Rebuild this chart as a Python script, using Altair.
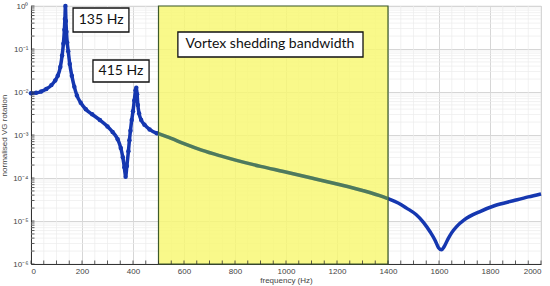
import altair as alt
import pandas as pd

# ---- data ----
freq = [0, 20, 40, 60, 80, 95, 105, 115, 122, 127, 131, 133, 135, 137, 139, 142, 146, 152, 160, 170,
        180, 195, 215, 240, 270, 300, 320, 340, 352, 360, 366, 371, 376, 382, 386, 390, 395, 400, 405,
        410, 413, 416, 419, 424, 432, 445, 465, 493, 500, 550, 600, 669, 740, 806, 900, 990, 1100,
        1200, 1300, 1382, 1400, 1440, 1473, 1510, 1539, 1565, 1584, 1598, 1610, 1620, 1635, 1650,
        1669, 1700, 1761, 1820, 1891, 1950, 2000]
log_resp = [-2.03, -2.02, -1.99, -1.93, -1.84, -1.73, -1.62, -1.42, -1.15, -0.88, -0.55, -0.30, 0.0,
            -0.35, -0.60, -0.85, -1.05, -1.35, -1.62, -1.88, -2.08, -2.25, -2.40, -2.52, -2.65, -2.80,
            -2.93, -3.10, -3.30, -3.52, -3.75, -3.97, -3.72, -3.38, -3.12, -2.90, -2.65, -2.45, -2.20,
            -1.96, -1.90, -2.05, -2.30, -2.50, -2.65, -2.76, -2.87, -2.96, -2.97, -3.08, -3.20, -3.35,
            -3.48, -3.59, -3.73, -3.85, -4.00, -4.14, -4.29, -4.44, -4.48, -4.58, -4.70, -4.85, -5.03,
            -5.25, -5.44, -5.62, -5.67, -5.60, -5.42, -5.27, -5.13, -4.97, -4.78, -4.64, -4.53, -4.44,
            -4.37]
band = [500, 1400]
x_major = [0, 200, 400, 600, 800, 1000, 1200, 1400, 1600, 1800, 2000]
y_major = [1e-6, 1e-5, 1e-4, 1e-3, 1e-2, 1e-1, 1]
labels = ["135 Hz", "415 Hz", "Vortex shedding bandwidth"]

W, H = 510, 258
BLUE = "#1537b0"
GREEN = "#4e7a5e"

df = pd.DataFrame({"f": freq, "v": [10 ** e for e in log_resp]})
df_in = df[(df.f >= band[0]) & (df.f <= band[1])]

x_minor = [f for f in range(0, 2001, 50) if f % 200 != 0]
y_minor = [m * d for d in y_major[:-1] for m in range(2, 10)]

# annotation boxes (frequency / value coordinates)
ann = pd.DataFrame({
    "label": labels,
    "f": [165, 243, 576], "f2": [384, 463, 1302],
    "v": [10 ** -0.0465, 10 ** -1.256, 10 ** -0.605],
    "v2": [10 ** -0.605, 10 ** -1.767, 10 ** -1.186],
    "tf": [275, 353, 937],
    "tv": [10 ** -0.326, 10 ** -1.512, 10 ** -0.895],
})

xscale = alt.Scale(domain=[0, 2000], nice=False, zero=False)
yscale = alt.Scale(type="log", domain=[1e-6, 1], nice=False)
sup = "['\u2070','\u207b\u00b9','\u207b\u00b2','\u207b\u00b3','\u207b\u2074','\u207b\u2075','\u207b\u2076']"
xaxis = alt.Axis(values=x_major, title="frequency (Hz)", grid=True, gridColor="#d6d6d6",
                 ticks=False, labelFontSize=8, labelColor="#444", titleFontSize=8, format="d",
                 titleFontWeight="normal", titleColor="#444", labelPadding=3, titlePadding=1,
                 domainColor="#333", labelFont="Liberation Sans", titleFont="Liberation Sans")
yaxis = alt.Axis(values=y_major, title="normalised VG rotation", grid=True, gridColor="#d6d6d6",
                 ticks=False, labelFontSize=8, labelColor="#444", titleFontSize=8,
                 titleFontWeight="normal", titleColor="#444", labelPadding=3, titlePadding=4,
                 domainColor="#333", labelFont="Liberation Sans", titleFont="Liberation Sans",
                 labelExpr="'10' + " + sup + "[round(-log(datum.value)/LN10)]")


def X(field="f"):
    return alt.X(f"{field}:Q", scale=xscale, axis=xaxis)


def Y(field="v"):
    return alt.Y(f"{field}:Q", scale=yscale, axis=yaxis)


minor_x = alt.Chart(pd.DataFrame({"f": x_minor})).mark_rule(
    color="#ececec", strokeWidth=0.7).encode(x=X(), y=alt.value(0), y2=alt.value(H))
minor_y = alt.Chart(pd.DataFrame({"v": y_minor})).mark_rule(
    color="#ececec", strokeWidth=0.7).encode(y=Y(), x=alt.value(0), x2=alt.value(W))

line = alt.Chart(df).mark_line(color=BLUE, strokeWidth=3.5, interpolate="monotone").encode(x=X(), y=Y())
pts = alt.Chart(df[df.f < 500]).mark_point(filled=True, color=BLUE, size=20, opacity=1).encode(x=X(), y=Y())

rect = alt.Chart(pd.DataFrame({"f": [band[0]], "f2": [band[1]]})).mark_rect(
    fill="#f8f870", fillOpacity=0.82, stroke="#3d5a2a", strokeWidth=1.2).encode(
    x=X(), x2="f2:Q", y=alt.value(0), y2=alt.value(H))

line_in = alt.Chart(df_in).mark_line(color=GREEN, strokeWidth=3.5, interpolate="monotone").encode(x=X(), y=Y())

tick_x = alt.Chart(pd.DataFrame({"f": list(range(0, 2001, 50))})).mark_rule(
    color="#333", strokeWidth=0.8).encode(x=X(), y=alt.value(H - 3.5), y2=alt.value(H))
tick_y = alt.Chart(pd.DataFrame({"v": y_minor + y_major})).mark_rule(
    color="#333", strokeWidth=0.8).encode(y=Y(), x=alt.value(0), x2=alt.value(3.5))

boxes = alt.Chart(ann).mark_rect(fill="white", stroke="#111", strokeWidth=1.3).encode(
    x=X(), x2="f2:Q", y=Y(), y2="v2:Q")
texts = alt.Chart(ann).mark_text(font="Lato", fontSize=14, color="#111", align="center",
                                 baseline="middle").encode(
    x=X("tf"), y=Y("tv"), text="label:N")

chart = alt.layer(minor_x, minor_y, line, pts, rect, line_in, tick_x, tick_y, boxes, texts).properties(
    width=W, height=H,
    autosize=alt.AutoSizeParams(type="none"),
    padding={"left": 31, "top": 6, "right": 9, "bottom": 22},
    background="white",
).configure_view(stroke="#bbbbbb", strokeWidth=0.8)

chart.save("out.html", embed_options={"renderer": "svg", "actions": False})
